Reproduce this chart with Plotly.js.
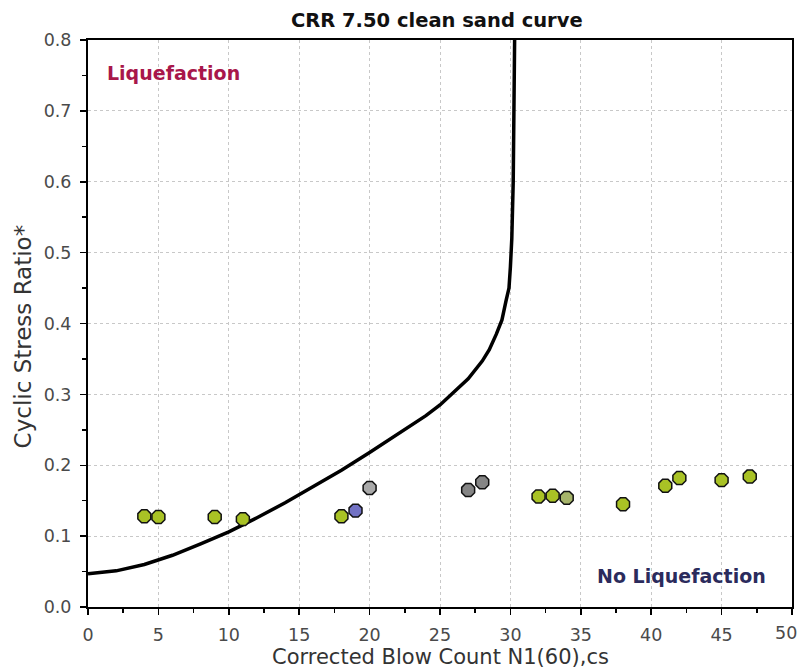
<!DOCTYPE html>
<html>
<head>
<meta charset="utf-8">
<script src="https://cdn.plot.ly/plotly-3.0.1.min.js"></script>
<style>html,body{margin:0;padding:0;background:#fff;}#chart{width:800px;height:669px;}</style>
</head>
<body>
<div id="chart"></div>
<script>
// CRR curve (clean sand, M7.5)
const curveN   = [0, 2, 4, 6, 8, 10, 12, 14, 16, 18, 20, 22, 24, 25, 26, 27, 28, 28.5, 29, 29.4, 29.7, 29.9, 30.0, 30.1, 30.2, 30.3];
const curveCRR = [0.047, 0.051, 0.060, 0.073, 0.089, 0.106, 0.126, 0.147, 0.170, 0.193, 0.218, 0.244, 0.270, 0.285, 0.303, 0.322, 0.347, 0.363, 0.385, 0.405, 0.433, 0.450, 0.480, 0.520, 0.600, 0.800];

// data points
const pointN     = [4, 5, 9, 11, 18, 19, 20, 27, 28, 32, 33, 34, 38, 41, 42, 45, 47];
const pointCSR   = [0.128, 0.127, 0.127, 0.124, 0.128, 0.136, 0.168, 0.165, 0.176, 0.156, 0.157, 0.154, 0.145, 0.171, 0.182, 0.179, 0.184];
const pointGroup = ['g','g','g','g','g','b','lg','dg','dg','g','g','gg','g','g','g','g','g'];

const groupColor = {g:'#a9c225', b:'#7272c4', lg:'#a9a9a9', dg:'#858585', gg:'#a6b46a'};

const xTicks = [0, 5, 10, 15, 20, 25, 30, 35, 40, 45, 50];
const yTicks = [0, 0.1, 0.2, 0.3, 0.4, 0.5, 0.6, 0.7, 0.8];

const font = 'Verdana, "DejaVu Sans", sans-serif';
const tickFont = {family: font, size: 17.5, color: '#4a4a4a'};

const traces = [
  {x: curveN, y: curveCRR, mode: 'lines', type: 'scatter',
   line: {color: '#000', width: 3.5}, hoverinfo: 'skip', showlegend: false},
  {x: pointN, y: pointCSR, mode: 'markers', type: 'scatter', showlegend: false,
   marker: {size: 14, symbol: 'octagon', color: pointGroup.map(g => groupColor[g]),
            line: {color: '#111', width: 1.5}}}
];

const axisCommon = {
  showline: true, linecolor: '#000', linewidth: 2, mirror: true,
  ticks: 'outside', ticklen: 6, tickcolor: '#000', tickwidth: 1.5,
  showgrid: true, gridcolor: '#c8c8c8', griddash: 'dot', gridwidth: 1,
  zeroline: false, ticklabelstandoff: 5,
  tickfont: tickFont
};

// last x tick label (at the right edge) is drawn as a right-aligned annotation so it stays inside the page
const lastX = xTicks[xTicks.length - 1];

const layout = {
  width: 800, height: 669,
  margin: {l: 88, r: 8, t: 40, b: 62},
  paper_bgcolor: '#fff', plot_bgcolor: '#fff',
  title: {text: '<b>CRR 7.50 clean sand curve</b>', x: 0.546, xanchor: 'center', y: 0.970, yanchor: 'middle',
          font: {family: font, size: 19.5, color: '#111'}},
  xaxis: Object.assign({}, axisCommon, {
    range: [0, 50], tickvals: xTicks, ticktext: xTicks.map(v => v === lastX ? '' : String(v)),
    minor: {dtick: 2.5, tick0: 0, ticks: 'outside', ticklen: 4, tickcolor: '#000', showgrid: false}
  }),
  yaxis: Object.assign({}, axisCommon, {
    range: [0, 0.8], tickvals: yTicks, ticktext: yTicks.map(v => v.toFixed(1)),
    minor: {dtick: 0.05, tick0: 0, ticks: 'outside', ticklen: 4, tickcolor: '#000', showgrid: false}
  }),
  annotations: [
    {x: 1.0, y: -0.046, xref: 'paper', yref: 'paper', xanchor: 'right', yanchor: 'middle', showarrow: false,
     xshift: 7, text: String(lastX), font: tickFont},
    {x: 0.5, y: -0.089, xref: 'paper', yref: 'paper', xanchor: 'center', yanchor: 'middle', showarrow: false,
     text: 'Corrected Blow Count N1(60),cs', font: {family: font, size: 21, color: '#333'}},
    {x: -0.0925, y: 0.477, xref: 'paper', yref: 'paper', xanchor: 'center', yanchor: 'middle', showarrow: false,
     textangle: -90, text: 'Cyclic Stress Ratio*', font: {family: font, size: 23, color: '#333'}},
    {x: 1.2, y: 0.753, xref: 'x', yref: 'y', xanchor: 'left', yanchor: 'middle', showarrow: false,
     text: '<b>Liquefaction</b>', font: {family: font, size: 19, color: '#a8174a'}},
    {x: 36.0, y: 0.044, xref: 'x', yref: 'y', xanchor: 'left', yanchor: 'middle', showarrow: false,
     text: '<b>No Liquefaction</b>', font: {family: font, size: 19, color: '#2b2b5c'}}
  ]
};

Plotly.newPlot('chart', traces, layout, {displayModeBar: false, staticPlot: true});
</script>
</body>
</html>
